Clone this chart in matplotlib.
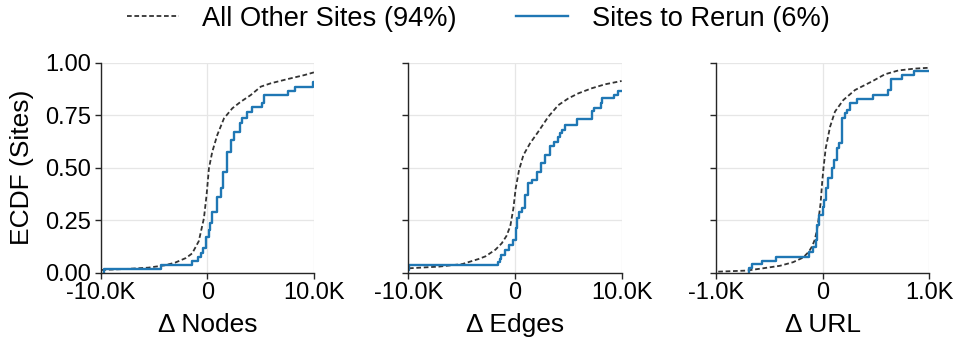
import matplotlib.pyplot as plt
from matplotlib.ticker import FuncFormatter

plt.rcParams['font.family'] = ['Liberation Sans', 'DejaVu Sans']

# ECDF breakpoints per metric: x = delta value, y = cumulative share of sites
# "Sites to Rerun" are step ECDFs (few sites), "All Other Sites" are smooth
nodes_rerun_x = [-9670, -9670, -4330, -1430, -850, -568, -411, -129, 150, 248, 405, 876,
                 1252, 1472, 1880, 2257, 2508, 3041, 3230, 3700, 4234, 5113, 5333, 7592,
                 8251, 9950, 10000]
nodes_rerun_y = [0, 0.018, 0.037, 0.056, 0.076, 0.096, 0.116, 0.171, 0.205, 0.235, 0.290,
                 0.362, 0.402, 0.481, 0.576, 0.632, 0.672, 0.711, 0.735, 0.767, 0.791,
                 0.807, 0.846, 0.865, 0.885, 0.907, 0.907]
nodes_other_x = [-9925, -7500, -5527, -4000, -3013, -2000, -1415, -800, -317, -66, 154,
                 468, 939, 1566, 2351, 3135, 4077, 5018, 5960, 7529, 9098, 10000]
nodes_other_y = [0.013, 0.018, 0.024, 0.035, 0.048, 0.070, 0.092, 0.150, 0.259, 0.370,
                 0.497, 0.576, 0.656, 0.735, 0.783, 0.814, 0.846, 0.886, 0.902, 0.922,
                 0.941, 0.954]

edges_rerun_x = [-10000, -9940, -1617, -1450, -1305, -930, -555, -212, 100, 225, 381, 630,
                 943, 1192, 1629, 2035, 2441, 2815, 3283, 3689, 4001, 4220, 4438, 4688,
                 5811, 7247, 7434, 8059, 8183, 9307, 9681, 10000]
edges_rerun_y = [0.013, 0.037, 0.050, 0.065, 0.084, 0.108, 0.132, 0.156, 0.211, 0.259,
                 0.290, 0.306, 0.370, 0.426, 0.441, 0.481, 0.521, 0.560, 0.605, 0.621,
                 0.648, 0.664, 0.680, 0.703, 0.730, 0.770, 0.786, 0.807, 0.830, 0.846,
                 0.865, 0.865]
edges_other_x = [-9944, -7135, -4944, -4007, -3427, -2762, -2179, -1826, -1243, -800, -440,
                 -152, 66, 381, 787, 1411, 2191, 3127, 4064, 5000, 5936, 7184, 8433, 10000]
edges_other_y = [0.021, 0.029, 0.041, 0.056, 0.065, 0.078, 0.098, 0.110, 0.140, 0.175,
                 0.222, 0.306, 0.402, 0.489, 0.560, 0.616, 0.672, 0.743, 0.798, 0.830,
                 0.854, 0.878, 0.897, 0.913]

url_rerun_x = [-690, -690, -659, -565, -440, -128, -87, -66, -50, -31, 7, 16, 28, 53, 84,
               106, 131, 153, 184, 209, 225, 256, 318, 468, 615, 640, 740, 858, 1000]
url_rerun_y = [0, 0.021, 0.040, 0.057, 0.076, 0.097, 0.12, 0.156, 0.227, 0.275, 0.315,
               0.346, 0.402, 0.449, 0.497, 0.537, 0.592, 0.616, 0.735, 0.759, 0.775,
               0.807, 0.827, 0.846, 0.870, 0.922, 0.941, 0.962, 0.962]
url_other_x = [-980, -715, -559, -400, -278, -184, -130, -100, -75, -55, -40, -20, -5, 7,
               28, 69, 115, 193, 303, 459, 584, 709, 865, 1000]
url_other_y = [0.005, 0.010, 0.021, 0.033, 0.050, 0.072, 0.100, 0.125, 0.156, 0.200,
               0.250, 0.330, 0.430, 0.497, 0.592, 0.695, 0.767, 0.822, 0.870, 0.910,
               0.945, 0.963, 0.972, 0.976]

x_labels = ['\u0394 Nodes', '\u0394 Edges', '\u0394 URL']
x_limits = [10000, 10000, 1000]
y_ticks = [0, 0.25, 0.5, 0.75, 1.0]
legend_labels = ['All Other Sites (94%)', 'Sites to Rerun (6%)']

panels = [
    (nodes_other_x, nodes_other_y, nodes_rerun_x, nodes_rerun_y),
    (edges_other_x, edges_other_y, edges_rerun_x, edges_rerun_y),
    (url_other_x, url_other_y, url_rerun_x, url_rerun_y),
]


def k_format(v, pos):
    if v == 0:
        return '0'
    return f'{v / 1000:.1f}K'


fig, axes = plt.subplots(1, 3, figsize=(9.56, 3.41), dpi=100, sharey=True)
fig.subplots_adjust(left=0.1053, right=0.9721, bottom=0.2003, top=0.8161, wspace=0.443)

for ax, (ox, oy, rx, ry), label, lim in zip(axes, panels, x_labels, x_limits):
    ax.set_axisbelow(True)
    ax.grid(True, color='#e6e6e6', linewidth=0.9)
    other_line, = ax.plot(ox, oy, color='#333333', linewidth=1.3,
                          linestyle=(0, (2.6, 1.5)), label=legend_labels[0])
    rerun_line, = ax.plot(rx, ry, color='#1f77b4', linewidth=1.7,
                          drawstyle='steps-post', label=legend_labels[1])
    ax.set_xlim(-lim, lim)
    ax.set_ylim(0, 1)
    ax.set_xticks([-lim, 0, lim])
    ax.xaxis.set_major_formatter(FuncFormatter(k_format))
    ax.set_yticks(y_ticks)
    ax.set_xlabel(label, fontsize=19, labelpad=6)
    for side in ['top', 'right']:
        ax.spines[side].set_visible(False)
    for side in ['left', 'bottom']:
        ax.spines[side].set_color('#262626')
        ax.spines[side].set_linewidth(1.0)
    ax.tick_params(direction='out', length=4, width=1.0, color='#262626',
                   labelsize=17, pad=3)

axes[0].yaxis.set_major_formatter(FuncFormatter(lambda v, pos: f'{v:.2f}'))
axes[0].set_ylabel('ECDF (Sites)', fontsize=19, labelpad=8)

fig.legend([other_line, rerun_line], legend_labels, loc='upper center',
           bbox_to_anchor=(0.5, 1.055), ncol=2, frameon=False, fontsize=19.6,
           handlelength=1.94, handletextpad=0.85, columnspacing=2.15)

fig.savefig('out.png', dpi=100)
